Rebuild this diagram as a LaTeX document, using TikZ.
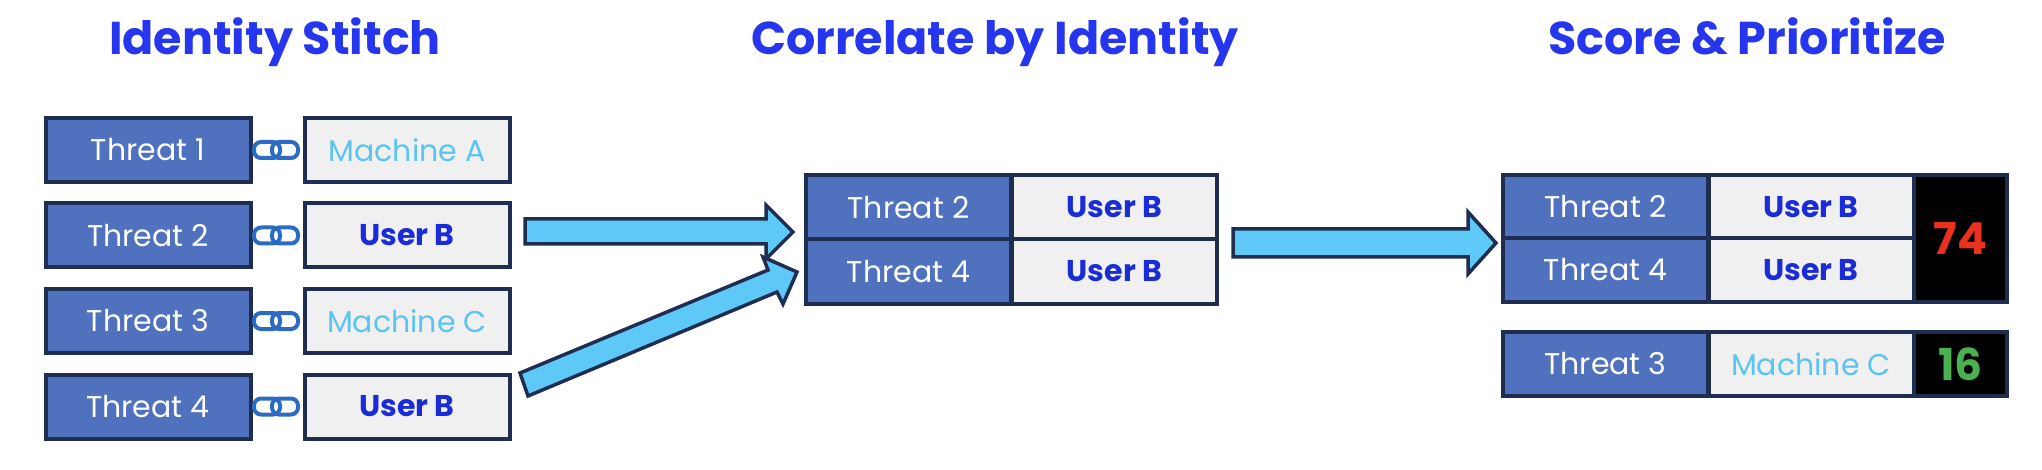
\documentclass[tikz,border=0pt]{standalone}
\usepackage{fontspec}
\setmainfont{Poppins}
\usetikzlibrary{positioning}
\definecolor{ttlblue}{HTML}{2536EE}
\definecolor{thrfill}{HTML}{5071BD}
\definecolor{navy}{HTML}{1F2D50}
\definecolor{objfill}{HTML}{F0F0F0}
\definecolor{machtxt}{HTML}{5BC4F0}
\definecolor{usertxt}{HTML}{1A2BD8}
\definecolor{arrfill}{HTML}{5EC8F7}
\definecolor{linkblue}{HTML}{2C6BC4}
\definecolor{scorered}{HTML}{E8321E}
\definecolor{scoregreen}{HTML}{4CAF50}
\tikzset{
 threat/.style={draw=navy,line width=4pt,fill=thrfill,text=white,minimum width=205pt,minimum height=64pt,inner sep=0pt,font=\fontsize{30}{30}\selectfont},
 machine/.style={draw=navy,line width=4pt,fill=objfill,text=machtxt,minimum width=205pt,minimum height=64pt,inner sep=0pt,font=\fontsize{30}{30}\selectfont},
 user/.style={machine,text=usertxt,font=\fontsize{30}{30}\selectfont\bfseries},
 score/.style={draw=navy,line width=4pt,fill=black,minimum width=93pt,inner sep=0pt,font=\fontsize{44}{44}\selectfont\bfseries},
 title/.style={text=ttlblue,anchor=base,font=\fontsize{46}{46}\selectfont\bfseries},
 bigarrow/.style={draw=navy,line width=3.5pt,fill=arrfill,line join=miter},
 link/.style={draw=linkblue,line width=4pt,rounded corners=7pt}
}
\begin{document}
\begin{tikzpicture}[x=1pt,y=-1pt]
 \useasboundingbox (0,0) rectangle (2042,470);
 % titles
 \node[title] (t1) at (275,55) {Identity Stitch};
 \node[title] (t2) at (995,55) {Correlate by Identity};
 \node[title] (t3) at (1747,55) {Score \& Prioritize};
 % identity stitch
 \node[threat] (a1) at (148,150) {Threat 1};
 \node[machine] (b1) at (407,150) {Machine A};
 \node[threat] (a2) at (148,235.5) {Threat 2};
 \node[user] (b2) at (407,235.5) {User B};
 \node[threat] (a3) at (148,321) {Threat 3};
 \node[machine] (b3) at (407,321) {Machine C};
 \node[threat] (a4) at (148,406.5) {Threat 4};
 \node[user] (b4) at (407,406.5) {User B};
 \foreach \y in {150,235.5,321,406.5}{
  \draw[link] (254,\y-8) rectangle (280,\y+8);
  \draw[link] (272,\y-8) rectangle (298,\y+8);
 }
 % correlate
 \node[threat] (c1) at (908.5,207.5) {Threat 2};
 \node[user] (d1) at (1114.5,207.5) {User B};
 \node[threat] (c2) at (908.5,271.5) {Threat 4};
 \node[user] (d2) at (1114.5,271.5) {User B};
 % score
 \node[threat] (e1) at (1605.5,207) {Threat 2};
 \node[user] (f1) at (1811,207) {User B};
 \node[threat] (e2) at (1605.5,270) {Threat 4};
 \node[user] (f2) at (1811,270) {User B};
 \node[score,minimum height=127pt,text=scorered] (s1) at (1960.5,238.5) {74};
 \node[threat] (e3) at (1605.5,364) {Threat 3};
 \node[machine] (f3) at (1811,364) {Machine C};
 \node[score,minimum height=64pt,text=scoregreen] (s2) at (1960.5,364) {16};
 % arrows
 \draw[bigarrow] (525,219)--(766,219)--(766,205)--(793,232)--(766,259)--(766,244)--(525,244)--cycle;
 \draw[bigarrow] (520,373)--(768,270)--(763,257)--(797,272)--(783,304)--(777,292)--(528,396)--cycle;
 \draw[bigarrow] (1233,229)--(1468,229)--(1468,212)--(1496,243)--(1468,274)--(1468,257)--(1233,257)--cycle;
\end{tikzpicture}
\end{document}
